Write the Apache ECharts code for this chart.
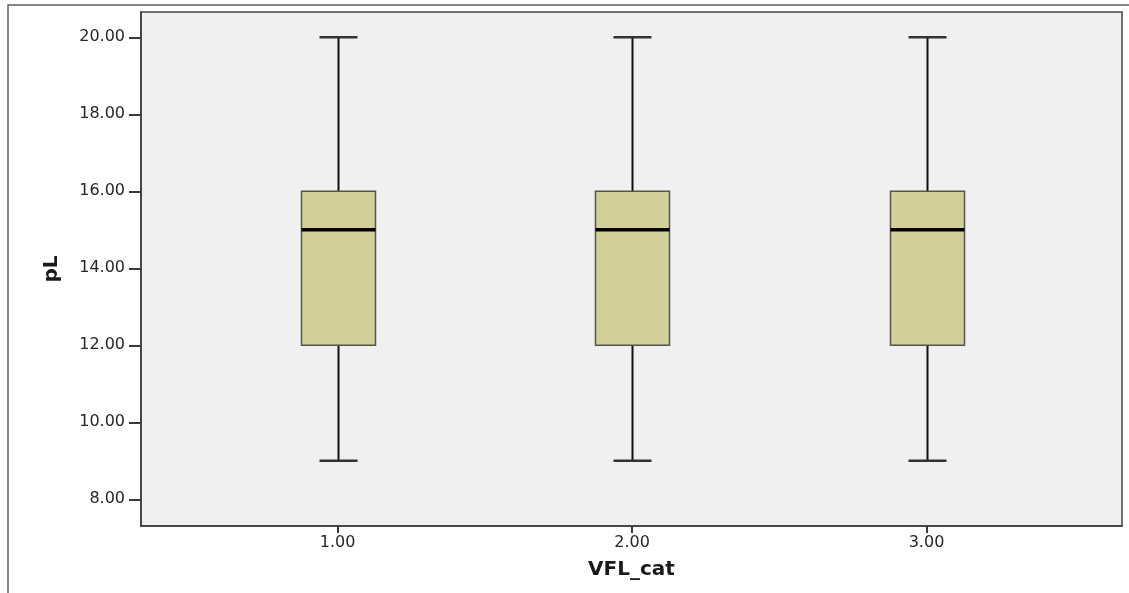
<!DOCTYPE html>
<html>
<head>
<meta charset="utf-8">
<script src="https://cdn.jsdelivr.net/npm/echarts@6/dist/echarts.min.js"></script>
<style>
html,body{margin:0;padding:0;background:#ffffff;}
#chart{width:1129px;height:593px;}
</style>
</head>
<body>
<div id="chart"></div>
<script>
// ---- data ----
const categories = [1, 2, 3];
const whiskerLow = [9, 9, 9];
const q1 = [12, 12, 12];
const median = [15, 15, 15];
const q3 = [16, 16, 16];
const whiskerHigh = [20, 20, 20];
const yTicks = [8, 10, 12, 14, 16, 18, 20];
const xTicks = [1, 2, 3];
const xTitle = 'VFL_cat';
const yTitle = 'pL';

const rows = categories.map((c, i) => [c, whiskerLow[i], q1[i], median[i], q3[i], whiskerHigh[i]]);

const chart = echarts.init(document.getElementById('chart'), null, {renderer: 'canvas'});
const FONT = 'DejaVu Sans';
const BOX_W = 74, CAP_W = 38;

chart.setOption({
  animation: false,
  backgroundColor: '#ffffff',
  grid: {
    left: 141, right: 7, top: 12, bottom: 67,
    show: true, backgroundColor: '#f0f0f0', borderColor: '#444444', borderWidth: 1.5
  },
  graphic: [{
    type: 'rect', silent: true, z: 100,
    shape: {x: 8, y: 5, width: 3000, height: 3000},
    style: {fill: 'none', stroke: '#606060', lineWidth: 1.5}
  }],
  xAxis: {
    type: 'value', min: 0.332, max: 3.664,
    name: xTitle, nameLocation: 'middle', nameGap: 34,
    nameTextStyle: {fontFamily: FONT, fontWeight: 'bold', fontSize: 20, color: '#1a1a1a'},
    axisLine: {show: true, lineStyle: {color: '#3a3a3a', width: 1.5}},
    axisTick: {show: true, customValues: xTicks, length: 7, lineStyle: {color: '#3a3a3a', width: 2}},
    axisLabel: {customValues: xTicks, margin: 9, fontFamily: FONT, fontSize: 16, color: '#262626',
      formatter: v => Number(v).toFixed(2)},
    splitLine: {show: false}
  },
  yAxis: {
    type: 'value', min: 7.306, max: 20.657,
    name: yTitle, nameLocation: 'middle', nameGap: 79, nameRotate: 90,
    nameTextStyle: {fontFamily: FONT, fontWeight: 'bold', fontSize: 20, color: '#1a1a1a'},
    axisLine: {show: true, lineStyle: {color: '#3a3a3a', width: 1.5}},
    axisTick: {show: true, customValues: yTicks, length: 12, lineStyle: {color: '#3a3a3a', width: 2}},
    axisLabel: {customValues: yTicks, margin: 16, fontFamily: FONT, fontSize: 16, color: '#262626',
      formatter: v => Number(v).toFixed(2)},
    splitLine: {show: false}
  },
  series: [{
    type: 'custom',
    data: rows,
    encode: {x: 0, y: [1, 2, 3, 4, 5]},
    clip: true,
    renderItem: function (params, api) {
      const x = api.value(0);
      const pLo = api.coord([x, api.value(1)]);
      const pQ1 = api.coord([x, api.value(2)]);
      const pMed = api.coord([x, api.value(3)]);
      const pQ3 = api.coord([x, api.value(4)]);
      const pHi = api.coord([x, api.value(5)]);
      const cx = Math.round(pLo[0]) + 0.5;
      const lineSt = {stroke: '#111111', lineWidth: 2};
      const capSt = {stroke: '#333333', lineWidth: 2.5};
      return {
        type: 'group',
        children: [
          {type: 'line', shape: {x1: cx, y1: pLo[1], x2: cx, y2: pQ1[1]}, style: lineSt},
          {type: 'line', shape: {x1: cx, y1: pHi[1], x2: cx, y2: pQ3[1]}, style: lineSt},
          {type: 'line', shape: {x1: cx - CAP_W / 2, y1: pLo[1], x2: cx + CAP_W / 2, y2: pLo[1]}, style: capSt},
          {type: 'line', shape: {x1: cx - CAP_W / 2, y1: pHi[1], x2: cx + CAP_W / 2, y2: pHi[1]}, style: capSt},
          {type: 'rect', shape: {x: cx - BOX_W / 2, y: pQ3[1], width: BOX_W, height: pQ1[1] - pQ3[1]},
            style: {fill: '#d3cf9a', stroke: '#55554a', lineWidth: 1.5}},
          {type: 'line', shape: {x1: cx - BOX_W / 2, y1: pMed[1], x2: cx + BOX_W / 2, y2: pMed[1]},
            style: {stroke: '#000000', lineWidth: 3.5}}
        ]
      };
    }
  }]
});
</script>
</body>
</html>
